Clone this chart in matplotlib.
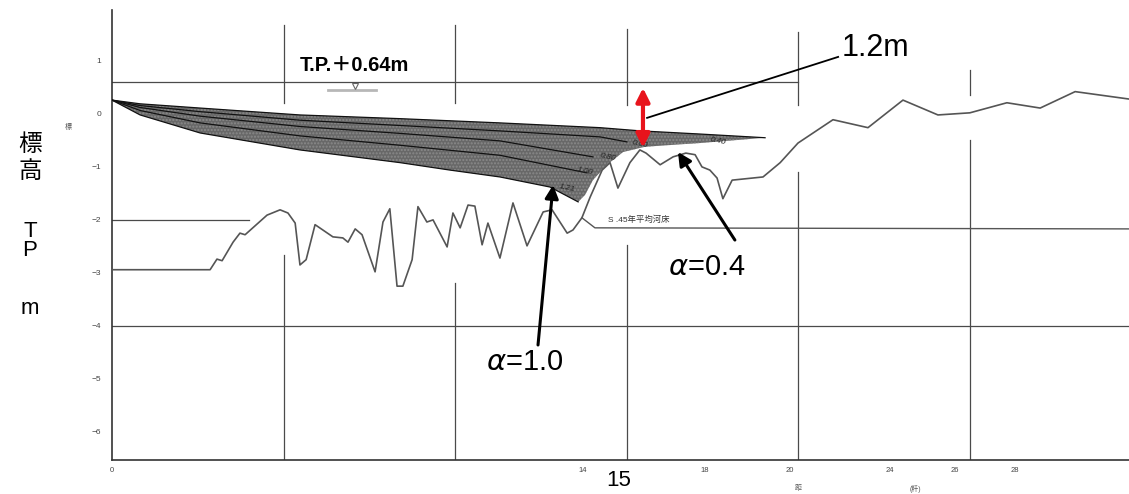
import matplotlib
matplotlib.use("Agg")
import matplotlib.pyplot as plt

plt.rcParams['font.family'] = ['Liberation Sans', 'Noto Sans CJK JP', 'DejaVu Sans']
plt.rcParams['mathtext.fontset'] = 'dejavusans'

# ------------------------------
# data (distance in km, elevation T.P. m)
# ------------------------------
bed_x = [0.00, 2.86, 3.06, 3.21, 3.53, 3.73, 3.88, 4.52, 4.90, 5.13, 5.34, 5.48, 5.66, 5.92,
         6.44, 6.73, 6.88, 7.09, 7.29, 7.67, 7.90, 8.10, 8.31, 8.48, 8.75, 8.92, 9.18, 9.36,
         9.77, 9.94, 10.15, 10.38, 10.58, 10.79, 10.96, 11.31, 11.69, 12.10, 12.57, 12.83,
         13.27, 13.44, 13.70, 13.94, 14.29, 14.52, 14.75, 15.10, 15.39, 15.57, 15.98, 16.36,
         16.73, 17.00, 17.20, 17.43, 17.64, 17.81, 18.08, 18.98, 19.48, 20.00, 21.02, 22.04,
         23.06, 24.08, 25.01, 26.09, 27.06, 28.08, 29.65]
bed_y = [-2.94, -2.94, -2.74, -2.77, -2.42, -2.25, -2.28, -1.91, -1.81, -1.87, -2.06, -2.85,
         -2.75, -2.09, -2.32, -2.34, -2.42, -2.17, -2.28, -2.98, -2.04, -1.79, -3.25, -3.25,
         -2.75, -1.75, -2.04, -2.00, -2.51, -1.87, -2.15, -1.72, -1.74, -2.47, -2.06, -2.72,
         -1.68, -2.49, -1.85, -1.81, -2.25, -2.19, -1.96, -1.57, -1.06, -0.92, -1.40, -0.92,
         -0.68, -0.74, -0.96, -0.81, -0.74, -0.77, -1.00, -1.06, -1.21, -1.60, -1.25, -1.19,
         -0.92, -0.55, -0.11, -0.26, 0.26, -0.02, 0.02, 0.21, 0.11, 0.42, 0.28]

# S.45 mean riverbed
s45_x = [13.70, 14.08, 29.65]
s45_y = [-1.96, -2.15, -2.17]

# backwater curves for each alpha
curve_labels = ["0.40", "0.60", "0.80", "1.00", "1.21"]
curve_x = [
    [0, 0.82, 2.57, 5.48, 8.40, 11.31, 14.23, 15.39, 17.14, 19.04],
    [0, 0.82, 2.57, 5.48, 8.40, 11.31, 14.23, 15.01],
    [0, 0.82, 2.57, 5.48, 8.40, 11.31, 14.02],
    [0, 0.82, 2.57, 5.48, 8.40, 11.31, 13.85],
    [0, 0.82, 2.57, 5.48, 8.40, 9.85, 11.31, 12.77, 13.59],
]
curve_y = [
    [0.26, 0.19, 0.11, -0.02, -0.09, -0.17, -0.26, -0.32, -0.38, -0.45],
    [0.26, 0.157, 0.042, -0.119, -0.219, -0.321, -0.434, -0.528],
    [0.26, 0.121, -0.043, -0.238, -0.368, -0.509, -0.811],
    [0.26, 0.064, -0.170, -0.415, -0.592, -0.781, -1.113],
    [0.26, -0.02, -0.36, -0.68, -0.92, -1.06, -1.19, -1.38, -1.66],
]
label_pos = [(17.67, -0.51), (15.39, -0.58), (14.46, -0.81), (13.79, -1.09), (13.27, -1.40)]

# right end of the shaded wedge (meets the riverbed)
edge_x = [17.14, 15.54, 14.90, 14.43, 14.02, 13.79]
edge_y = [-0.55, -0.62, -0.72, -0.96, -1.25, -1.53]

tp_level = 0.6
y_ticks = [1, 0, -1, -2, -3, -4, -5, -6]
x_tick_pos = [0, 13.73, 17.29, 19.77, 22.68, 24.58, 26.33]
x_tick_lab = ["0", "14", "18", "20", "24", "26", "28"]

# ------------------------------
# figure
# ------------------------------
W, H = 1129, 494
fig = plt.figure(figsize=(W / 100, H / 100), dpi=100)
ax = fig.add_axes([112 / W, 34 / H, 1 - 112 / W, 450 / H])
ax.set_xlim(0, 29.65)
ax.set_ylim(-6.53, 1.96)

for s in ['top', 'right']:
    ax.spines[s].set_visible(False)
for s in ['left', 'bottom']:
    ax.spines[s].set_color('#333333')
    ax.spines[s].set_linewidth(1.2)

ax.set_yticks(y_ticks)
ax.set_yticklabels([str(v).replace('-', '\u2212') for v in y_ticks])
ax.tick_params(axis='y', length=0, pad=8, labelsize=6, labelcolor='#444444')
ax.set_xticks(x_tick_pos)
ax.set_xticklabels(x_tick_lab)
ax.tick_params(axis='x', length=0, pad=5, labelsize=5.5, labelcolor='#444444')

grid_c = '#4a4a4a'
# horizontal lines
ax.plot([0, 20], [tp_level, tp_level], color=grid_c, lw=0.9)
ax.plot([0, 4.0], [-2, -2], color=grid_c, lw=0.9)
ax.plot([0, 29.65], [-4, -4], color=grid_c, lw=0.9)
# vertical grid segments (broken where the drawing is)
vsegs = [(5, 1.68, 0.21), (5, -2.66, -6.53),
         (10, 1.68, 0.21), (10, -3.19, -6.53),
         (15, 1.60, 0.17), (15, -2.47, -6.53),
         (20, 1.55, 0.17), (20, -1.09, -6.53),
         (25, 0.83, 0.36), (25, -0.49, -6.53)]
for xv, y0, y1 in vsegs:
    ax.plot([xv, xv], [y0, y1], color=grid_c, lw=0.9)

# water level mark
ax.plot([6.3, 7.7], [0.45, 0.45], color='#888888', lw=2, alpha=0.6)
ax.plot([7.08], [0.53], marker='v', ms=4, color='#666666', mfc='none', mew=0.8)

# shaded wedge
poly_x = curve_x[0] + edge_x + curve_x[4][::-1]
poly_y = curve_y[0] + edge_y + curve_y[4][::-1]
ax.fill(poly_x, poly_y, facecolor='#686868', edgecolor='none', zorder=2)
ax.fill(poly_x, poly_y, facecolor='none', edgecolor='#8a8a8a', hatch='.....', lw=0, zorder=2)
for cx, cy in zip(curve_x, curve_y):
    ax.plot(cx, cy, color='#111111', lw=0.9, zorder=3)
for lab, (lx, ly) in zip(curve_labels, label_pos):
    ax.text(lx, ly, lab, fontsize=6, style='italic', color='#222222',
            rotation=-12, ha='center', va='center', zorder=4)

# riverbed profiles
ax.plot(bed_x, bed_y, color='#555555', lw=1.2, zorder=3)
ax.plot(s45_x, s45_y, color='#555555', lw=1.0, zorder=3)
ax.text(14.46, -2.0, 'S .45年平均河床', fontsize=6, color='#333333', va='center')

# annotations
ax.text(5.48, 0.91, 'T.P.＋0.64m', fontsize=14.5, fontweight='bold', va='center', ha='left')
ax.annotate('', xy=(15.48, 0.49), xytext=(15.48, -0.64),
            arrowprops=dict(arrowstyle='<|-|>', color='#e8141c', lw=3, mutation_scale=20,
                            shrinkA=0, shrinkB=0), zorder=6)
ax.plot([15.60, 21.17], [-0.075, 1.075], color='black', lw=1.3, zorder=6)
ax.text(21.28, 1.245, '1.2m', fontsize=22, va='center', ha='left')

ax.annotate('', xy=(16.50, -0.72), xytext=(18.16, -2.38),
            arrowprops=dict(arrowstyle='-|>', color='black', lw=2.2, mutation_scale=20,
                            shrinkA=0, shrinkB=0), zorder=6)
ax.text(16.21, -2.89, r'$\alpha$=0.4', fontsize=21, va='center', ha='left')
ax.annotate('', xy=(12.86, -1.34), xytext=(12.42, -4.36),
            arrowprops=dict(arrowstyle='-|>', color='black', lw=2.2, mutation_scale=20,
                            shrinkA=0, shrinkB=0), zorder=6)
ax.text(10.90, -4.68, r'$\alpha$=1.0', fontsize=21, va='center', ha='left')

ax.text(14.78, -6.92, '15', fontsize=16, ha='center', va='center', clip_on=False)

# axis titles
for ch, py, fs in [('標', 145, 17), ('高', 172, 17), ('T', 231, 16), ('P', 251, 16), ('m', 308, 16)]:
    fig.text(30 / W, 1 - py / H, ch, fontsize=fs, ha='center', va='center')
fig.text(68 / W, 1 - 128 / H, '標', fontsize=5, color='#555555', ha='center', va='center')
fig.text(798 / W, 1 - 488 / H, '距', fontsize=5, color='#555555', ha='center', va='center')
fig.text(915 / W, 1 - 489 / H, '(粁)', fontsize=5, color='#555555', ha='center', va='center')

fig.savefig('out.png', dpi=100)
